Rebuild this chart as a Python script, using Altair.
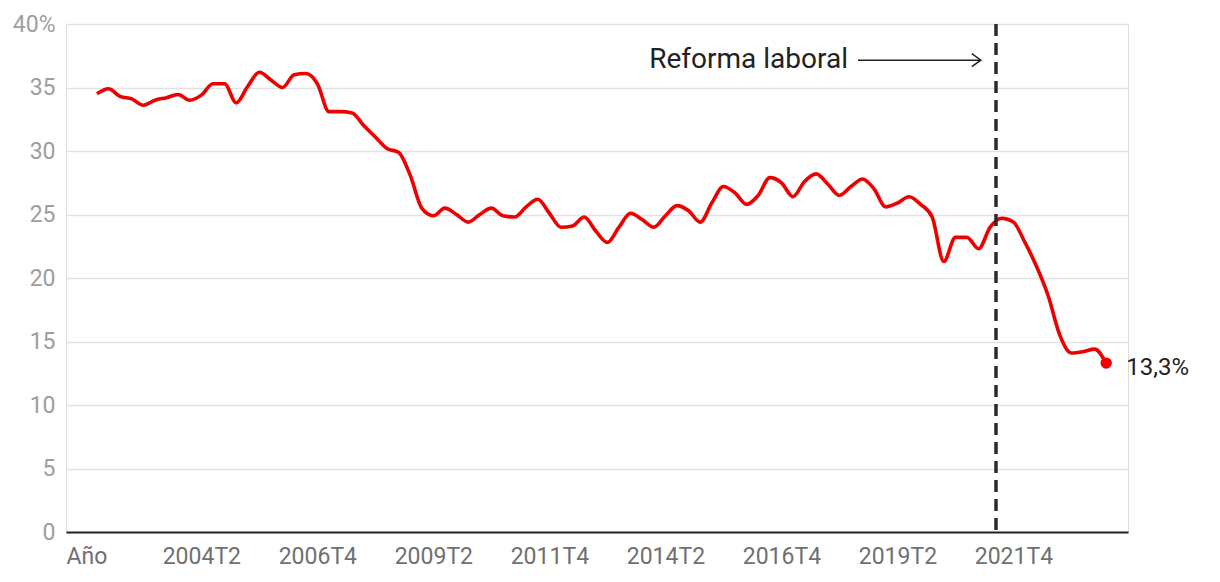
import altair as alt
import pandas as pd

# Quarterly categories 2002T1 .. 2023T4
quarters = [f"{y}T{q}" for y in range(2002, 2024) for q in range(1, 5)]

# Temporality rate (%)
values = [
    34.5, 34.9, 34.3, 34.1, 33.6, 34.0, 34.2, 34.45, 34.0, 34.4,
    35.3, 35.3, 33.8, 35.1, 36.2, 35.6, 35.0, 36.0, 36.1, 35.3,
    33.1, 33.1, 33.0, 32.0, 31.1, 30.2, 29.9, 28.1, 25.5, 24.9,
    25.5, 25.0, 24.4, 25.0, 25.5, 24.9, 24.8, 25.6, 26.2, 25.1,
    24.0, 24.1, 24.8, 23.7, 22.8, 24.0, 25.1, 24.6, 24.0, 24.9,
    25.7, 25.3, 24.4, 25.9, 27.2, 26.7, 25.8, 26.5, 27.9, 27.5,
    26.4, 27.6, 28.2, 27.4, 26.5, 27.2, 27.8, 27.0, 25.6, 25.9,
    26.4, 25.8, 24.8, 21.3, 23.2, 23.2, 22.3, 24.0, 24.7, 24.4,
    22.8, 20.9, 18.6, 15.5, 14.1, 14.2, 14.4, 13.3,
]

tick_positions = [9, 19, 29, 39, 49, 59, 69, 79]
first_label = "Año"
y_ticks = [0, 5, 10, 15, 20, 25, 30, 35, 40]

x_min, x_max = -2.668, 88.88

reform_text = "Reforma laboral"
reform_pos = 77.5
arrow_from, arrow_to, arrow_y = 65.6, 76.2, 37.15
last_label = "13,3%"

RED = "#ee0000"
FONT = "Roboto"

df = pd.DataFrame({"idx": list(range(len(values))), "quarter": quarters, "value": values})
last_df = df.tail(1).assign(label=last_label)
reform_df = pd.DataFrame({"pos": [reform_pos]})
arrow_df = pd.DataFrame({"x1": [arrow_from], "x2": [arrow_to], "y": [arrow_y], "t": [reform_text]})

js_quarters = "[" + ",".join(f"'{q}'" for q in quarters) + "]"
x_label_expr = f"datum.value < 0 ? '{first_label}' : {js_quarters}[round(datum.value)]"

x_scale = alt.Scale(domain=[x_min, x_max], nice=False, zero=False)
y_scale = alt.Scale(domain=[0, 40], nice=False)

x_axis = alt.Axis(
    values=[x_min] + tick_positions, labelExpr=x_label_expr, labelFlush=True,
    grid=False, ticks=False, domain=True, domainColor="#222222", domainWidth=2,
    labelColor="#707070", labelFontSize=23, labelPadding=13, labelOverlap=False,
    labelFont=FONT, title=None,
)
y_axis = alt.Axis(
    values=y_ticks, labelExpr="datum.value == 40 ? '40%' : datum.label",
    grid=True, gridColor="#e2e2e2", gridWidth=1.3, ticks=False, domain=False,
    labelColor="#9e9e9e", labelFontSize=23, labelPadding=11, labelFont=FONT, title=None,
)

base = alt.Chart(df)

line = base.mark_line(interpolate="monotone", color=RED, strokeWidth=3.6).encode(
    x=alt.X("idx:Q", scale=x_scale, axis=x_axis),
    y=alt.Y("value:Q", scale=y_scale, axis=y_axis),
)

reform_rule = alt.Chart(reform_df).mark_rule(
    color="#2b2b2b", strokeWidth=3.5, strokeDash=[12, 7]
).encode(x="pos:Q")

arrow_line = alt.Chart(arrow_df).mark_rule(color="#222222", strokeWidth=1.5).encode(
    x="x1:Q", x2="x2:Q", y="y:Q"
)
arrow_head = alt.Chart(arrow_df).mark_point(
    shape="M-1.4,-1L0,0L-1.4,1", filled=False, size=169, strokeWidth=1.5,
    color="#222222", opacity=1,
).encode(x="x2:Q", y="y:Q")
arrow_text = alt.Chart(arrow_df).mark_text(
    align="right", baseline="middle", fontSize=28, color="#222222", dx=-10, font=FONT
).encode(x="x1:Q", y="y:Q", text="t:N")

end_dot = alt.Chart(last_df).mark_circle(size=130, color=RED, opacity=1).encode(
    x="idx:Q", y="value:Q"
)
end_text = alt.Chart(last_df).mark_text(
    align="left", baseline="middle", fontSize=24, color="#222222", dx=20, dy=5, font=FONT
).encode(x="idx:Q", y="value:Q", text="label:N")

chart = alt.layer(
    line, reform_rule, arrow_line, arrow_head, arrow_text, end_dot, end_text
).properties(
    width=1062, height=508,
    autosize=alt.AutoSizeParams(type="none"),
    padding={"left": 58, "top": 16, "right": 84, "bottom": 42},
).configure_view(stroke=None).configure(font=FONT)

chart.save("out.html", embed_options={"renderer": "svg", "actions": False})
